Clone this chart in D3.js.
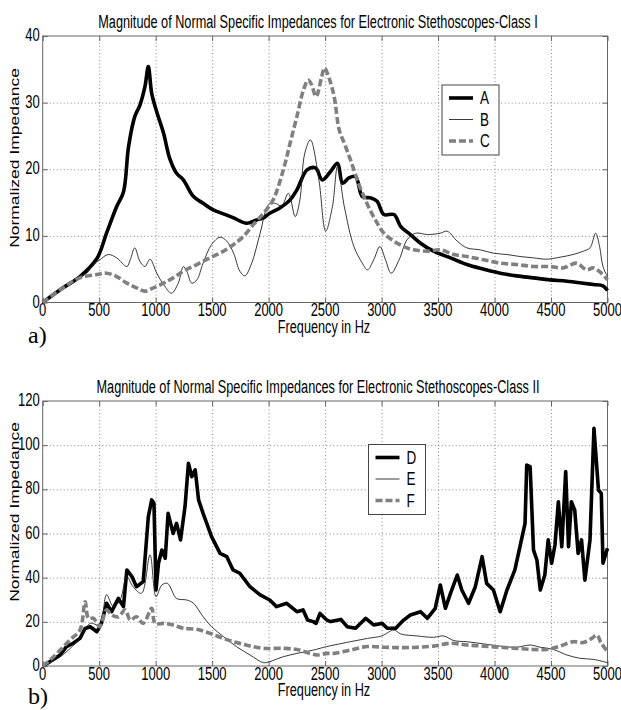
<!DOCTYPE html>
<html>
<head>
<meta charset="utf-8">
<script src="https://cdn.jsdelivr.net/npm/d3@7"></script>
<style>
  body { margin: 0; background: #fff; }
  svg { display: block; }
</style>
</head>
<body>
<svg id="vis" width="621" height="710"></svg>
<script>
// values (frequency in Hz, normalized impedance)
var fA = [0, 180, 330, 480, 565, 655, 715, 760, 815, 860, 905, 935, 965, 1010, 1070, 1125, 1185, 1245, 1335, 1420, 1510, 1600, 1690, 1805, 1895, 1955, 2010, 2100, 2190, 2250, 2340, 2415, 2475, 2550, 2610, 2655, 2710, 2770, 2830, 2905, 2960, 3020, 3110, 3170, 3255, 3345, 3460, 3610, 3755, 3905, 4050, 4195, 4345, 4490, 4640, 4785, 4875, 4960, 5000];
var vA = [0, 2.2, 3.9, 6.6, 10.4, 14.4, 16.6, 23.4, 27.9, 29.6, 32.4, 35.4, 31.4, 28.6, 25.4, 21.6, 19.4, 18.4, 15.9, 14.9, 13.9, 13.3, 12.7, 11.9, 12.4, 12.7, 13.4, 14.2, 15.4, 16.9, 19.9, 20.2, 18.4, 19.7, 20.9, 17.9, 18.7, 18.9, 15.9, 15.7, 15.2, 13.2, 13.2, 11.4, 10.2, 8.9, 7.7, 6.7, 5.7, 5.0, 4.4, 4.0, 3.7, 3.4, 3.2, 2.9, 2.7, 2.5, 1.8];

var fB = [0, 180, 330, 390, 450, 505, 580, 655, 745, 775, 815, 860, 905, 950, 1010, 1070, 1140, 1200, 1245, 1275, 1320, 1365, 1420, 1495, 1570, 1630, 1690, 1745, 1790, 1850, 1925, 2000, 2055, 2115, 2175, 2235, 2275, 2320, 2370, 2445, 2505, 2565, 2610, 2670, 2755, 2830, 2875, 2930, 2985, 3035, 3085, 3155, 3225, 3300, 3405, 3520, 3580, 3670, 3755, 3875, 3990, 4110, 4225, 4345, 4460, 4580, 4695, 4785, 4845, 4895, 4930, 4960, 5000];
var vB = [0, 2.2, 3.9, 4.4, 5.7, 6.4, 7.2, 6.7, 5.4, 6.4, 8.2, 6.2, 5.4, 6.5, 4.4, 2.7, 1.4, 2.9, 5.4, 4.7, 2.9, 3.4, 5.9, 8.7, 9.8, 9.2, 7.4, 4.7, 4.0, 5.9, 10.4, 14.7, 14.9, 14.5, 16.4, 12.9, 15.2, 22.4, 24.4, 18.4, 10.7, 14.4, 20.4, 14.4, 8.4, 5.9, 4.9, 6.4, 8.4, 6.4, 4.4, 6.4, 9.4, 10.4, 10.2, 10.4, 10.7, 9.2, 8.2, 7.9, 7.4, 7.2, 6.9, 6.7, 6.5, 6.8, 7.2, 7.7, 8.2, 10.4, 8.4, 5.4, 3.9];

var fC = [0, 180, 330, 480, 565, 655, 745, 830, 905, 980, 1070, 1155, 1245, 1365, 1480, 1600, 1690, 1775, 1865, 1955, 2040, 2130, 2190, 2250, 2305, 2350, 2380, 2420, 2470, 2495, 2535, 2580, 2625, 2670, 2725, 2800, 2875, 2945, 3020, 3110, 3195, 3285, 3405, 3520, 3640, 3755, 3905, 4050, 4195, 4345, 4490, 4610, 4725, 4815, 4875, 4945, 5000];
var vC = [0, 2.2, 3.7, 4.2, 4.4, 3.9, 2.9, 2.2, 1.7, 2.2, 2.9, 3.7, 4.7, 5.7, 6.7, 7.7, 8.7, 9.9, 11.7, 13.4, 15.4, 19.9, 23.9, 27.9, 31.7, 33.4, 32.7, 30.9, 33.9, 35.2, 33.7, 30.9, 25.9, 23.9, 21.4, 17.7, 14.7, 12.4, 10.4, 9.2, 8.4, 7.9, 7.7, 7.9, 7.2, 6.9, 6.4, 5.9, 5.7, 5.4, 5.4, 5.2, 5.9, 4.9, 5.2, 4.4, 3.4];

var fD = [0, 65, 155, 210, 270, 330, 375, 420, 480, 520, 565, 610, 670, 715, 745, 790, 830, 890, 935, 965, 985, 1003, 1025, 1055, 1085, 1110, 1155, 1185, 1220, 1260, 1290, 1320, 1350, 1380, 1420, 1495, 1570, 1630, 1685, 1745, 1835, 1925, 2010, 2070, 2160, 2250, 2305, 2345, 2395, 2420, 2455, 2515, 2550, 2640, 2695, 2770, 2860, 2930, 3005, 3050, 3125, 3195, 3255, 3345, 3405, 3475, 3520, 3565, 3610, 3670, 3710, 3770, 3830, 3890, 3930, 3990, 4050, 4110, 4180, 4225, 4270, 4285, 4315, 4345, 4375, 4405, 4445, 4475, 4505, 4535, 4565, 4595, 4630, 4655, 4680, 4710, 4740, 4770, 4800, 4845, 4880, 4920, 4945, 4960, 5000];
var vD = [0, 2, 5, 8.8, 10.3, 12.5, 17, 17.8, 15.5, 19.3, 28.4, 24.6, 30.6, 26.9, 43.5, 40.5, 35.9, 38.2, 67.6, 75.2, 73.7, 34.4, 46.5, 52.5, 48.8, 69.1, 60, 64.6, 57.1, 72.2, 91.8, 85.7, 88.8, 75.2, 69.1, 58.6, 51, 49.5, 43.5, 42, 35.9, 32.2, 29.9, 26.9, 28.4, 24.6, 25.4, 20.8, 20.1, 19.3, 23.8, 20.8, 20.1, 21.1, 17.8, 17.1, 21.6, 18.6, 19.3, 17.1, 17.1, 20.8, 23.1, 24.6, 21.6, 26.1, 36.7, 26.1, 32.9, 41.2, 34.4, 28.4, 35.9, 49.5, 37.4, 34.4, 24.6, 34.4, 43.5, 54, 64.6, 91, 90.3, 52.5, 48, 34.4, 41.2, 57.1, 46.5, 54.8, 74.4, 54, 88, 54, 74.4, 70.6, 51, 57.1, 38.9, 57.1, 107.6, 79.7, 78.2, 46.5, 53.3];

var fE = [0, 150, 330, 420, 505, 565, 625, 685, 745, 800, 875, 950, 1003, 1055, 1105, 1185, 1275, 1335, 1420, 1495, 1600, 1715, 1835, 1955, 2010, 2130, 2250, 2395, 2515, 2580, 2725, 2875, 3000, 3110, 3170, 3315, 3460, 3550, 3640, 3755, 3905, 4050, 4195, 4315, 4405, 4520, 4640, 4755, 4875, 5000];
var vE = [0, 4, 12.5, 19.3, 18.6, 32.2, 26.9, 29.9, 40.5, 35.9, 32.9, 50.3, 31.4, 36.7, 37.4, 30.6, 29.9, 28.4, 22.3, 17.8, 13.3, 8.8, 5, 1.5, 2, 4.2, 5.7, 7.2, 8.8, 9.5, 11, 12.5, 13.6, 16.3, 14.5, 13.6, 13, 13.6, 11.5, 11, 10, 9, 8.5, 9.5, 8.5, 7.5, 5, 3.5, 3, 1.5];

var fF = [0, 65, 155, 240, 330, 375, 405, 450, 505, 565, 610, 670, 730, 775, 830, 890, 965, 995, 1070, 1155, 1245, 1365, 1480, 1600, 1715, 1835, 1955, 2130, 2250, 2365, 2430, 2515, 2580, 2725, 2875, 3020, 3170, 3315, 3460, 3610, 3755, 3905, 4050, 4195, 4345, 4460, 4580, 4695, 4785, 4860, 4905, 4945, 5000];
var vF = [0, 2.7, 7.2, 11.8, 16.3, 29.1, 21.6, 21.6, 17.8, 25.4, 23.1, 22.3, 25.4, 20.8, 22.3, 19.3, 26.1, 19.3, 19.3, 18.6, 17.1, 16.6, 14.8, 12.5, 10.6, 9.1, 8, 8, 7.5, 5.7, 5, 5.7, 5.7, 7.2, 8.8, 8.5, 8.3, 8.5, 9, 10.3, 9.5, 9, 8.5, 8, 7.5, 7.5, 9, 11, 10.6, 12.5, 14, 10.3, 6.5];

var xTicks = [0, 500, 1000, 1500, 2000, 2500, 3000, 3500, 4000, 4500, 5000];
var yTicks1 = [0, 10, 20, 30, 40];
var yTicks2 = [0, 20, 40, 60, 80, 100, 120];

var titles = ["Magnitude of Normal Specific Impedances for Electronic Stethoscopes-Class I",
              "Magnitude of Normal Specific Impedances for Electronic Stethoscopes-Class II"];
var xLabel = "Frequency in Hz";
var yLabel = "Normalized Impedance";

var font = "'Liberation Sans', Arial, sans-serif";
var stretch = 1.4;   // the picture is squeezed sideways, text looks tall
var svg = d3.select("#vis");

var seriesStyle = {
    thick: {stroke: "#000", width: 3.6, dash: null},
    thin:  {stroke: "#222", width: 0.9, dash: null},
    dash:  {stroke: "#808080", width: 3.6, dash: "7,3"}
};

var text = function(g, x, y, str, size, anchor, rot) {
    var t = g.append("text")
        .attr("font-family", font)
        .attr("font-size", size)
        .attr("text-anchor", anchor || "middle")
        .attr("fill", "#000")
        .text(str);
    if (rot) t.attr("transform", "translate(" + x + "," + y + ") rotate(-90) scale(" + stretch + ",1)");
    else t.attr("transform", "translate(" + x + "," + y + ") scale(1," + stretch + ")");
    return t;
};

var drawPanel = function(p) {
    var x = d3.scaleLinear().domain([0, 5000]).range([p.left, p.right]);
    var y = d3.scaleLinear().domain([0, p.ymax]).range([p.bottom, p.top]);
    var g = svg.append("g");
    var w = p.right - p.left, h = p.bottom - p.top;

    // dotted grid
    g.append("g").attr("transform", "translate(0," + p.bottom + ")")
        .call(d3.axisBottom(x).tickValues(xTicks.slice(1, -1)).tickSize(-h).tickFormat(""))
        .call(function(a) { a.select(".domain").remove(); })
        .selectAll("line").attr("stroke", "#888").attr("stroke-dasharray", "1,2.5");
    g.append("g").attr("transform", "translate(" + p.left + ",0)")
        .call(d3.axisLeft(y).tickValues(p.yTicks.slice(1, -1)).tickSize(-w).tickFormat(""))
        .call(function(a) { a.select(".domain").remove(); })
        .selectAll("line").attr("stroke", "#888").attr("stroke-dasharray", "1,2.5");

    // inward ticks on all four sides
    [[d3.axisBottom(x), "translate(0," + p.bottom + ")", xTicks],
     [d3.axisTop(x), "translate(0," + p.top + ")", xTicks],
     [d3.axisLeft(y), "translate(" + p.left + ",0)", p.yTicks],
     [d3.axisRight(y), "translate(" + p.right + ",0)", p.yTicks]].forEach(function(d) {
        g.append("g").attr("transform", d[1])
            .call(d[0].tickValues(d[2]).tickSize(-5).tickFormat(""))
            .call(function(a) { a.select(".domain").remove(); })
            .selectAll("line").attr("stroke", "#666");
    });

    g.append("rect").attr("x", p.left).attr("y", p.top).attr("width", w).attr("height", h)
        .attr("fill", "none").attr("stroke", "#666").attr("stroke-width", 1);

    // tick labels
    xTicks.forEach(function(t) { text(g, x(t), p.bottom + 13.5, String(t), 13, "middle"); });
    p.yTicks.forEach(function(t) { text(g, p.left - 3, y(t) + 5, String(t), 13, "end"); });

    // series
    p.series.forEach(function(s) {
        var st = seriesStyle[s.style];
        var line = d3.line()
            .x(function(d) { return x(d[0]); })
            .y(function(d) { return y(d[1]); })
            .curve(s.smooth ? d3.curveCatmullRom.alpha(0.5) : d3.curveLinear);
        g.append("path").datum(d3.zip(s.f, s.v)).attr("d", line)
            .attr("fill", "none").attr("stroke", st.stroke).attr("stroke-width", st.width)
            .attr("stroke-linejoin", "round").attr("stroke-dasharray", st.dash);
    });

    // legend
    var lg = g.append("g").attr("transform", "translate(" + p.legend[0] + "," + p.legend[1] + ")");
    lg.append("rect").attr("width", 57).attr("height", 70).attr("fill", "#fff").attr("stroke", "#444");
    p.series.forEach(function(s, i) {
        var st = seriesStyle[s.style];
        var yy = 13 + i * 21.5;
        lg.append("line").attr("x1", 7).attr("x2", 31).attr("y1", yy).attr("y2", yy)
            .attr("stroke", st.stroke).attr("stroke-width", st.width).attr("stroke-dasharray", st.dash);
        text(lg, 38, yy + 6, s.name, 13.5, "start");
    });

    text(g, 318, p.top - 8, p.title, 12.7, "middle");
    text(g, 324, p.bottom + 30, xLabel, 12.7, "middle");
    text(g, 19, p.ylabelY, yLabel, 12.5, "middle", true);
    g.append("text").attr("x", 28).attr("y", p.bottom + p.tagDy)
        .attr("font-family", "'Liberation Serif', 'Times New Roman', serif")
        .attr("font-size", 24).text(p.tag);
};

drawPanel({
    left: 42.7, right: 607.5, top: 36, bottom: 302.5, ymax: 40, yTicks: yTicks1,
    title: titles[0], tag: "a)", tagDy: 40, ylabelY: 158, legend: [442, 85],
    series: [{name: "A", f: fA, v: vA, style: "thick", smooth: true},
             {name: "B", f: fB, v: vB, style: "thin", smooth: true},
             {name: "C", f: fC, v: vC, style: "dash", smooth: true}]
});
drawPanel({
    left: 42.7, right: 607.5, top: 401, bottom: 666, ymax: 120, yTicks: yTicks2,
    title: titles[1], tag: "b)", tagDy: 38, ylabelY: 512, legend: [368.5, 444.5],
    series: [{name: "D", f: fD, v: vD, style: "thick", smooth: false},
             {name: "E", f: fE, v: vE, style: "thin", smooth: true},
             {name: "F", f: fF, v: vF, style: "dash", smooth: true}]
});
</script>
</body>
</html>
